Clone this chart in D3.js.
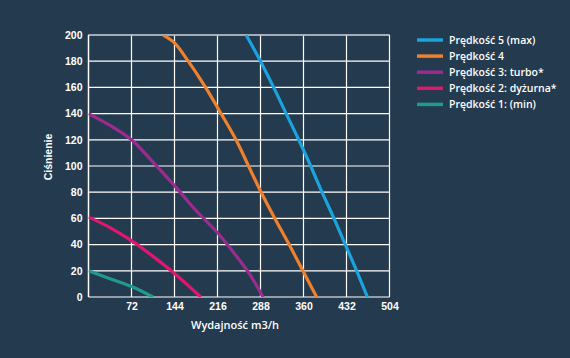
<!DOCTYPE html>
<html><head><meta charset="utf-8">
<script src="https://cdn.jsdelivr.net/npm/d3@7"></script>
<style>html,body{margin:0;padding:0;background:#243a4e;}svg{display:block;}</style>
</head><body>
<script>
const xTicks = [72, 144, 216, 288, 360, 432, 504];
const yTicks = [0, 20, 40, 60, 80, 100, 120, 140, 160, 180, 200];
const seriesNames = ["Prędkość 5 (max)", "Prędkość 4", "Prędkość 3: turbo*", "Prędkość 2: dyżurna*", "Prędkość 1: (min)"];
const seriesColors = ["#1ba3dd", "#f0802b", "#9a2c8e", "#e1166f", "#1f9a8c"];
const speed5 = [[264,200],[288,180],[310,160],[331,140],[352,120],[372,100],[391,80],[411,60],[430,40],[449,20],[467,0]];
const speed4 = [[125,200],[144,194],[167,180],[196,160],[222,140],[247,120],[268,100],[289,80],[312,60],[336,40],[359,20],[382,0]];
const speed3 = [[0,140],[36,131],[72,120],[108,103],[144,85],[180,66],[216,49],[248,31],[272,16],[292,0]];
const speed2 = [[0,61],[36,53],[72,43],[108,31],[144,18],[188,0]];
const speed1 = [[0,20],[36,14],[72,8],[108,0]];
const allSeries = [speed5, speed4, speed3, speed2, speed1];

const W = 570, H = 358;
const svg = d3.select("body").append("svg").attr("width", W).attr("height", H);
svg.append("rect").attr("width", W).attr("height", H).attr("fill", "#243a4e");

const x = d3.scaleLinear().domain([0, 504]).range([88.5, 389.5]);
const y = d3.scaleLinear().domain([0, 200]).range([297, 35]);

// grid
const g = svg.append("g");
g.selectAll("line.v").data(xTicks).enter().append("line")
  .attr("x1", d => x(d)).attr("x2", d => x(d)).attr("y1", y(0)).attr("y2", y(200))
  .attr("stroke", "#ffffff").attr("stroke-width", 1.2);
g.selectAll("line.h").data(yTicks).enter().append("line")
  .attr("x1", x(0)).attr("x2", x(504)).attr("y1", d => y(d)).attr("y2", d => y(d))
  .attr("stroke", "#ffffff").attr("stroke-width", 1.2);
g.append("line").attr("x1", x(0)).attr("x2", x(504)).attr("y1", y(200)).attr("y2", y(200))
  .attr("stroke", "#a9b3bd").attr("stroke-width", 1.5);
g.append("line").attr("x1", x(0)).attr("x2", x(0)).attr("y1", y(0)).attr("y2", y(200))
  .attr("stroke", "#ffffff").attr("stroke-width", 1.5);

// axes labels
const xAxis = d3.axisBottom(x).tickValues(xTicks).tickSize(0).tickPadding(6);
const xg = svg.append("g").attr("transform", `translate(0,${y(0)})`).call(xAxis);
xg.select(".domain").remove();
xg.selectAll("text").attr("fill", "#ffffff").style("font-family", "Liberation Sans, Arial, sans-serif")
  .style("font-size", "10.5px").style("font-weight", "bold");

const yAxis = d3.axisLeft(y).tickValues(yTicks).tickSize(0).tickPadding(6);
const yg = svg.append("g").attr("transform", `translate(${x(0)},0)`).call(yAxis);
yg.select(".domain").remove();
yg.selectAll("text").attr("fill", "#ffffff").style("font-family", "Liberation Sans, Arial, sans-serif")
  .style("font-size", "10.5px").style("font-weight", "bold");

svg.append("text").attr("x", 235).attr("y", 329).attr("text-anchor", "middle")
  .attr("fill", "#ffffff").style("font-family", "Open Sans, sans-serif").style("font-size", "11px").style("font-weight", "600")
  .text("Wydajność m3/h");
svg.append("text").attr("transform", "translate(52,157) rotate(-90)").attr("text-anchor", "middle")
  .attr("fill", "#ffffff").style("font-family", "Liberation Sans, Arial, sans-serif").style("font-size", "10.5px").style("font-weight", "bold")
  .text("Ciśnienie");

// lines
const line = d3.line().x(d => x(d[0])).y(d => y(d[1])).curve(d3.curveCatmullRom.alpha(0.5));
svg.append("clipPath").attr("id", "clip").append("rect")
  .attr("x", x(0)).attr("y", y(200)).attr("width", x(504) - x(0)).attr("height", y(0) - y(200));
const lg = svg.append("g").attr("clip-path", "url(#clip)");
allSeries.forEach((s, i) => {
  lg.append("path").datum(s).attr("d", line).attr("fill", "none")
    .attr("stroke", seriesColors[i]).attr("stroke-width", 3.2).attr("stroke-linecap", "butt");
});

// legend
const leg = svg.append("g");
seriesNames.forEach((n, i) => {
  const yy = 40 + i * 16.1;
  leg.append("line").attr("x1", 417).attr("x2", 443).attr("y1", yy).attr("y2", yy)
    .attr("stroke", seriesColors[i]).attr("stroke-width", 3.5);
  leg.append("text").attr("x", 449).attr("y", yy + 4).attr("fill", "#ffffff")
    .style("font-family", "Open Sans, sans-serif").style("font-size", "10.5px").style("font-weight", "600")
    .text(n);
});
</script>
</body></html>
